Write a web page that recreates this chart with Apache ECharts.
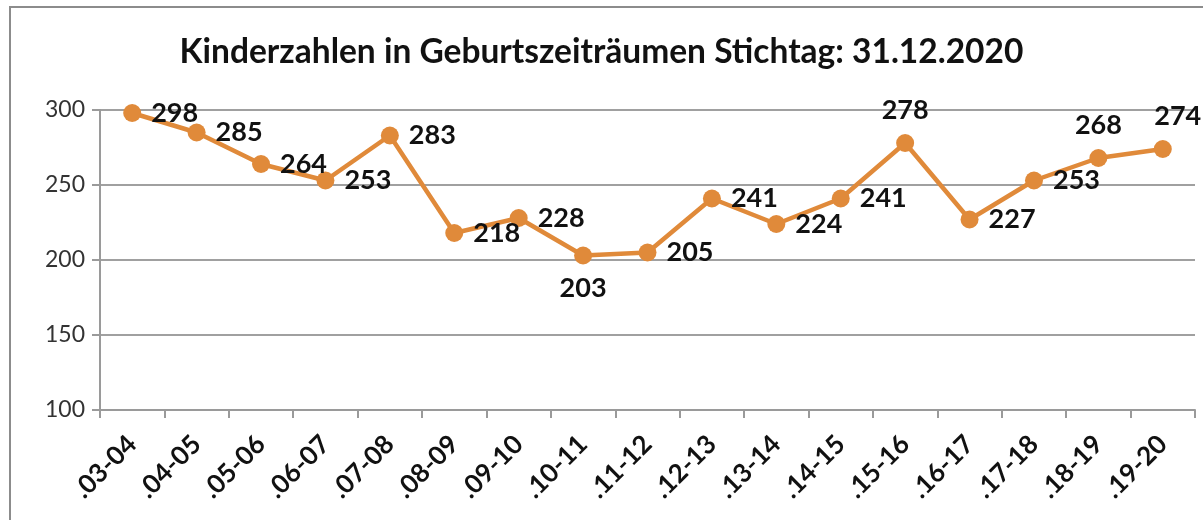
<!DOCTYPE html>
<html>
<head>
<meta charset="utf-8">
<script src="https://cdn.jsdelivr.net/npm/echarts@6/dist/echarts.min.js"></script>
<style>
html,body{margin:0;padding:0;background:#fff;}
#c{width:1203px;height:520px;}
</style>
</head>
<body>
<div id="c"></div>
<script>
const titleText = 'Kinderzahlen in Geburtszeiträumen Stichtag: 31.12.2020';
const categories = ['.03-04','.04-05','.05-06','.06-07','.07-08','.08-09','.09-10','.10-11','.11-12','.12-13','.13-14','.14-15','.15-16','.16-17','.17-18','.18-19','.19-20'];
const values = [298,285,264,253,283,218,228,203,205,241,224,241,278,227,253,268,274];
const labelPositions = ['right','right','right','right','right','right','right','bottom','right','right','right','right','top','right','right','top','top'];

const chart = echarts.init(document.getElementById('c'));
const data = values.map((v, i) => {
  const lab = { position: labelPositions[i] };
  if (i === values.length - 1) lab.offset = [15, 0];
  return { value: v, label: lab };
});

chart.setOption({
  animation: false,
  backgroundColor: '#fff',
  graphic: [{
    type: 'rect', silent: true,
    shape: { x: 10, y: 7, width: 1210, height: 540 },
    style: { fill: 'none', stroke: '#8c8c8c', lineWidth: 2 }
  }],
  title: {
    text: titleText,
    left: 'center', top: 30,
    textStyle: { fontFamily: 'Lato', fontWeight: 'bold', fontSize: 33.5, color: '#111' }
  },
  grid: { left: 100, right: 8, top: 110, bottom: 110, containLabel: false },
  xAxis: {
    type: 'category',
    data: categories,
    boundaryGap: true,
    axisLine: { lineStyle: { color: '#9a9a9a', width: 2 } },
    axisTick: { show: true, length: 8, lineStyle: { color: '#9a9a9a', width: 2 } },
    axisLabel: {
      interval: 0, rotate: 45, margin: 30,
      fontFamily: 'Lato', fontWeight: 'bold', fontSize: 26, color: '#111'
    },
    splitLine: { show: false }
  },
  yAxis: {
    type: 'value', min: 100, max: 300, interval: 50,
    axisLine: { show: true, lineStyle: { color: '#9a9a9a', width: 2 } },
    axisTick: { show: true, length: 8, lineStyle: { color: '#9a9a9a', width: 2 } },
    axisLabel: { margin: 15, fontFamily: 'Lato', fontSize: 23, color: '#333' },
    splitLine: { show: true, lineStyle: { color: '#a0a0a0', width: 2 } }
  },
  series: [{
    type: 'line',
    data: data,
    symbol: 'circle', symbolSize: 18,
    itemStyle: { color: '#E08A3A' },
    lineStyle: { color: '#E08A3A', width: 4.5 },
    label: {
      show: true, distance: 10,
      fontFamily: 'Lato', fontWeight: 'bold', fontSize: 27, color: '#111'
    }
  }]
});
</script>
</body>
</html>
